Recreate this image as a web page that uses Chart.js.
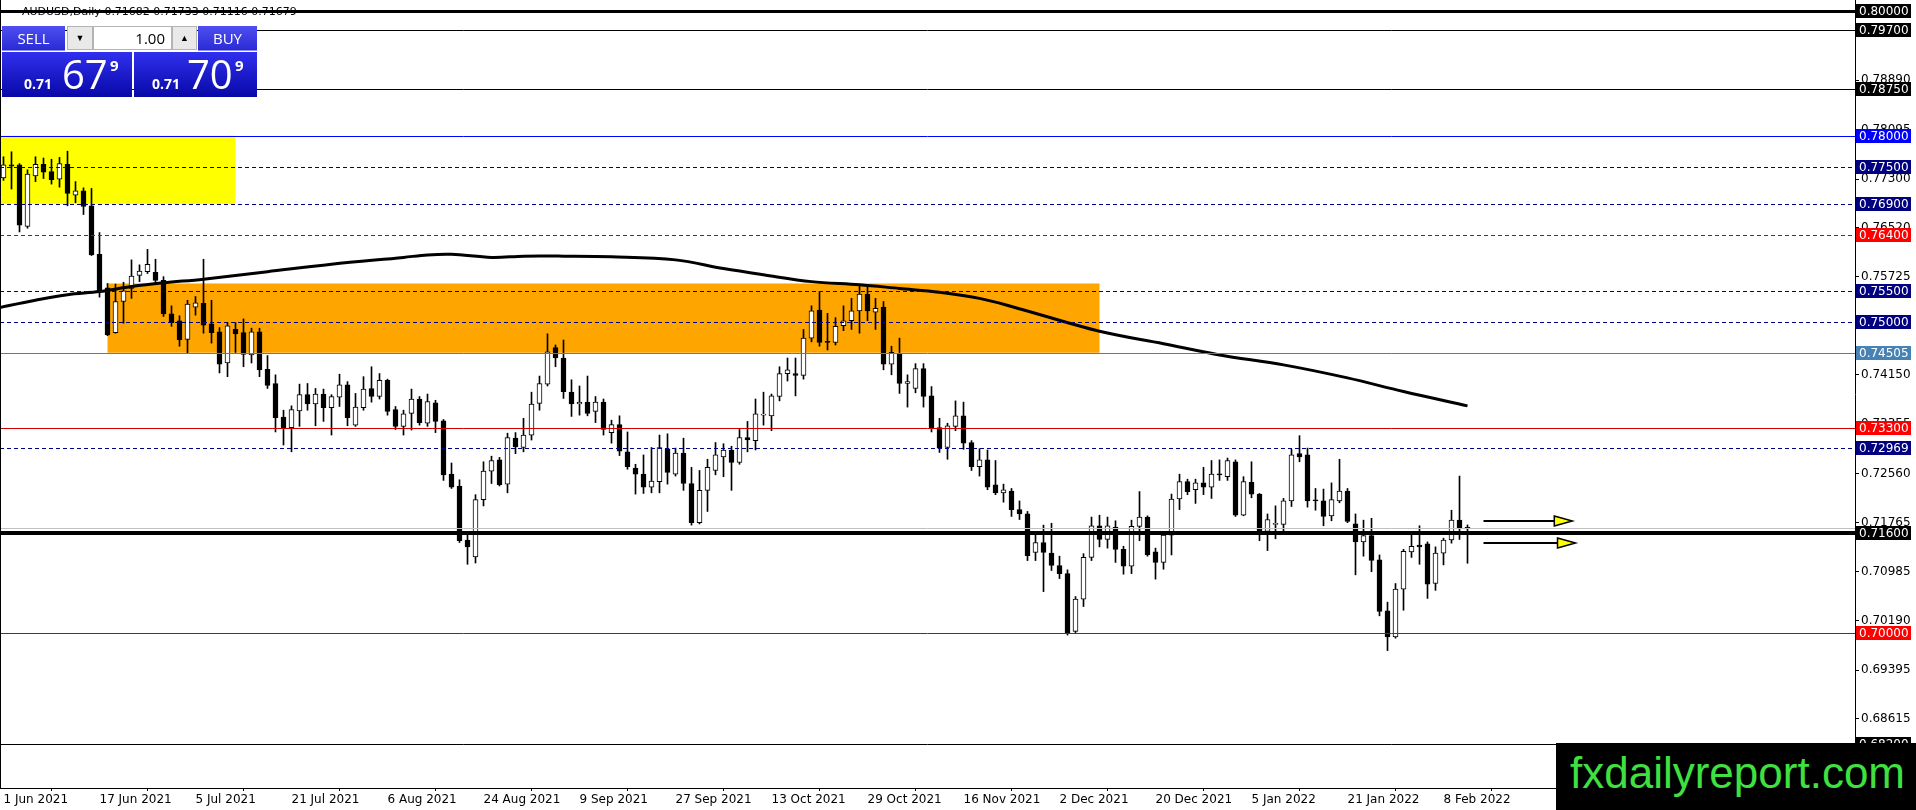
<!DOCTYPE html>
<html>
<head>
<meta charset="utf-8">
<title>AUDUSD, Daily</title>
<script src="https://cdn.jsdelivr.net/npm/chart.js@4.4.1/dist/chart.umd.min.js"></script>
<style>
  body { margin: 0; background: #fff; overflow: hidden; font-family: "DejaVu Sans", sans-serif; }
  #wrap { position: relative; width: 1916px; height: 810px; }
  #c { position: absolute; left: 0; top: 0; }
  #hdr { position: absolute; left: 22px; top: 5px; font-size: 11px; line-height: 13px; color: #000; white-space: nowrap; }
  .pn { position: absolute; font-family: "Open Sans", sans-serif; color: #fff; box-sizing: border-box; }
  .hd { top: 26px; height: 25px; background: linear-gradient(#4f4ff0, #2b2bd6); font-size: 15px; line-height: 25px; text-align: center; border-bottom: 1px solid #8c8cf5; }
  .ctl { top: 26px; height: 24px; background: #e9e9e9; border: 1px solid #b4b4b4; color: #000; font-size: 9px; line-height: 22px; text-align: center; }
  .lot { top: 26px; height: 24px; background: #fff; border: 1px solid #b4b4b4; color: #000; font-size: 15px; line-height: 22px; text-align: right; padding-right: 6px; }
  .px { top: 52px; height: 45px; background: linear-gradient(#3030ee, #0808a8); }
  .px span { position: absolute; line-height: 1; }
  .px .a { font-size: 14px; font-weight: bold; top: 25px; }
  .px .b { font-size: 40px; top: 2px; }
  .px .s { font-size: 15px; font-weight: bold; top: 6px; }
  #wm { position: absolute; left: 1556px; top: 743px; width: 360px; height: 67px; background: #000; color: #3fe03f;
        font-family: "Liberation Sans", Arial, sans-serif; font-size: 44px; line-height: 60px; padding-left: 14px; box-sizing: border-box; }
</style>
</head>
<body>
<div id="wrap">
  <canvas id="c" width="1916" height="810"></canvas>
  <div id="hdr"></div>

  <div class="pn hd" style="left:2px;width:63px">SELL</div>
  <div class="pn ctl" style="left:67px;width:26px">&#9660;</div>
  <div class="pn lot" style="left:93px;width:79px">1.00</div>
  <div class="pn ctl" style="left:172px;width:25px">&#9650;</div>
  <div class="pn hd" style="left:198px;width:59px">BUY</div>
  <div class="pn px" style="left:2px;width:130px">
    <span class="a" style="left:22px">0.71</span><span class="b" style="left:60px">67</span><span class="s" style="left:108px">9</span>
  </div>
  <div class="pn px" style="left:134px;width:123px">
    <span class="a" style="left:18px">0.71</span><span class="b" style="left:53px">70</span><span class="s" style="left:101px">9</span>
  </div>

  <div id="wm">fxdailyreport.com</div>
</div>

<script>
// AUDUSD daily candles, 1 Jun 2021 .. 11 Feb 2022 (one value per trading day)
var OPEN = [
  0.7732, 0.7753, 0.7753, 0.7654, 0.7735, 0.7754, 0.7742, 0.7730, 0.7754, 0.7704, 0.7711, 0.7687,
  0.7609, 0.7555, 0.7483, 0.7533, 0.7554, 0.7575, 0.7581, 0.7580, 0.7567, 0.7513, 0.7502, 0.7472,
  0.7524, 0.7530, 0.7497, 0.7484, 0.7434, 0.7488, 0.7483, 0.7447, 0.7484, 0.7424, 0.7401, 0.7347,
  0.7330, 0.7357, 0.7383, 0.7368, 0.7384, 0.7362, 0.7379, 0.7399, 0.7334, 0.7362, 0.7393, 0.7380,
  0.7406, 0.7359, 0.7332, 0.7353, 0.7376, 0.7337, 0.7370, 0.7341, 0.7255, 0.7236, 0.7149, 0.7122,
  0.7214, 0.7260, 0.7278, 0.7239, 0.7313, 0.7298, 0.7318, 0.7369, 0.7400, 0.7459, 0.7442, 0.7387,
  0.7368, 0.7371, 0.7356, 0.7371, 0.7322, 0.7335, 0.7291, 0.7265, 0.7255, 0.7234, 0.7243, 0.7296,
  0.7255, 0.7289, 0.7240, 0.7177, 0.7229, 0.7261, 0.7283, 0.7294, 0.7274, 0.7314, 0.7309, 0.7350,
  0.7349, 0.7380, 0.7417, 0.7417, 0.7414, 0.7474, 0.7519, 0.7469, 0.7467, 0.7494, 0.7502, 0.7518,
  0.7545, 0.7516, 0.7524, 0.7432, 0.7449, 0.7401, 0.7393, 0.7425, 0.7381, 0.7330, 0.7298, 0.7332,
  0.7349, 0.7306, 0.7267, 0.7278, 0.7238, 0.7225, 0.7228, 0.7198, 0.7191, 0.7129, 0.7145, 0.7128,
  0.7108, 0.7095, 0.7002, 0.7054, 0.7121, 0.7172, 0.7150, 0.7170, 0.7134, 0.7107, 0.7171, 0.7186,
  0.7130, 0.7113, 0.7157, 0.7215, 0.7243, 0.7230, 0.7241, 0.7234, 0.7255, 0.7251, 0.7275, 0.7189,
  0.7242, 0.7223, 0.7163, 0.7174, 0.7174, 0.7212, 0.7288, 0.7286, 0.7213, 0.7212, 0.7188, 0.7212,
  0.7228, 0.7175, 0.7146, 0.7156, 0.7117, 0.7035, 0.6993, 0.7070, 0.7130, 0.7141, 0.7143, 0.7079,
  0.7128, 0.7149, 0.7181, 0.71682
];
var HIGH = [
  0.7766, 0.7774, 0.7755, 0.7745, 0.7766, 0.7764, 0.7762, 0.7765, 0.7775, 0.7726, 0.7716, 0.7715,
  0.7644, 0.7562, 0.7561, 0.7564, 0.7600, 0.7592, 0.7617, 0.7601, 0.7573, 0.7526, 0.7510, 0.7535,
  0.7541, 0.7601, 0.7535, 0.7491, 0.7499, 0.7499, 0.7505, 0.7490, 0.7490, 0.7446, 0.7415, 0.7358,
  0.7365, 0.7400, 0.7401, 0.7393, 0.7392, 0.7383, 0.7416, 0.7404, 0.7385, 0.7412, 0.7428, 0.7417,
  0.7408, 0.7364, 0.7358, 0.7392, 0.7380, 0.7384, 0.7374, 0.7343, 0.7273, 0.7246, 0.7157, 0.7222,
  0.7275, 0.7284, 0.7282, 0.7321, 0.7322, 0.7345, 0.7387, 0.7413, 0.7481, 0.7463, 0.7471, 0.7407,
  0.7397, 0.7413, 0.7380, 0.7376, 0.7342, 0.7349, 0.7323, 0.7271, 0.7286, 0.7298, 0.7318, 0.7320,
  0.7297, 0.7313, 0.7266, 0.7261, 0.7279, 0.7306, 0.7304, 0.7300, 0.7327, 0.7340, 0.7376, 0.7387,
  0.7384, 0.7428, 0.7442, 0.7442, 0.7488, 0.7526, 0.7549, 0.7514, 0.7507, 0.7526, 0.7538, 0.7558,
  0.7560, 0.7538, 0.7533, 0.7461, 0.7474, 0.7415, 0.7433, 0.7433, 0.7396, 0.7345, 0.7337, 0.7373,
  0.7371, 0.7309, 0.7296, 0.7294, 0.7277, 0.7239, 0.7232, 0.7212, 0.7195, 0.7157, 0.7173, 0.7176,
  0.7123, 0.7101, 0.7058, 0.7127, 0.7186, 0.7189, 0.7186, 0.7180, 0.7139, 0.7181, 0.7227, 0.7188,
  0.7136, 0.7160, 0.7223, 0.7255, 0.7247, 0.7247, 0.7266, 0.7277, 0.7278, 0.7281, 0.7278, 0.7251,
  0.7275, 0.7224, 0.7191, 0.7204, 0.7216, 0.7295, 0.7317, 0.7297, 0.7232, 0.7231, 0.7241, 0.7279,
  0.7232, 0.7191, 0.7181, 0.7184, 0.7125, 0.7049, 0.7079, 0.7134, 0.7157, 0.7172, 0.7146, 0.7138,
  0.7152, 0.7197, 0.7252, 0.71733
];
var LOW = [
  0.7728, 0.7714, 0.7645, 0.7651, 0.7726, 0.7731, 0.7722, 0.7717, 0.7687, 0.7692, 0.7673, 0.7607,
  0.7540, 0.7478, 0.7482, 0.7498, 0.7538, 0.7565, 0.7578, 0.7562, 0.7509, 0.7493, 0.7461, 0.7449,
  0.7511, 0.7482, 0.7466, 0.7418, 0.7412, 0.7451, 0.7428, 0.7434, 0.7412, 0.7393, 0.7323, 0.7302,
  0.7291, 0.7332, 0.7358, 0.7333, 0.7340, 0.7318, 0.7364, 0.7333, 0.7332, 0.7358, 0.7371, 0.7376,
  0.7350, 0.7327, 0.7318, 0.7326, 0.7334, 0.7332, 0.7322, 0.7245, 0.7232, 0.7145, 0.7110, 0.7112,
  0.7204, 0.7240, 0.7236, 0.7225, 0.7288, 0.7291, 0.7310, 0.7358, 0.7397, 0.7428, 0.7377, 0.7348,
  0.7350, 0.7349, 0.7338, 0.7318, 0.7305, 0.7285, 0.7263, 0.7223, 0.7224, 0.7225, 0.7225, 0.7239,
  0.7252, 0.7229, 0.7173, 0.7175, 0.7195, 0.7254, 0.7251, 0.7229, 0.7271, 0.7291, 0.7294, 0.7334,
  0.7325, 0.7373, 0.7405, 0.7381, 0.7408, 0.7468, 0.7461, 0.7455, 0.7463, 0.7486, 0.7488, 0.7482,
  0.7502, 0.7488, 0.7423, 0.7415, 0.7385, 0.7363, 0.7386, 0.7363, 0.7323, 0.7290, 0.7279, 0.7325,
  0.7295, 0.7261, 0.7252, 0.7230, 0.7222, 0.7210, 0.7187, 0.7182, 0.7116, 0.7116, 0.7066, 0.7100,
  0.7087, 0.6996, 0.7000, 0.7042, 0.7116, 0.7138, 0.7136, 0.7113, 0.7094, 0.7095, 0.7148, 0.7123,
  0.7086, 0.7102, 0.7125, 0.7198, 0.7222, 0.7208, 0.7222, 0.7216, 0.7245, 0.7245, 0.7187, 0.7188,
  0.7217, 0.7148, 0.7132, 0.7151, 0.7164, 0.7203, 0.7275, 0.7202, 0.7197, 0.7172, 0.7180, 0.7209,
  0.7177, 0.7093, 0.7123, 0.7098, 0.7027, 0.6971, 0.6991, 0.7036, 0.7121, 0.7110, 0.7055, 0.7068,
  0.7109, 0.7144, 0.7150, 0.71116
];
var CLOSE = [
  0.7753, 0.7751, 0.7656, 0.7738, 0.7754, 0.7741, 0.7729, 0.7755, 0.7707, 0.7711, 0.7686, 0.7608,
  0.7549, 0.7479, 0.7533, 0.7550, 0.7574, 0.7582, 0.7593, 0.7567, 0.7513, 0.7499, 0.7471, 0.7529,
  0.7531, 0.7495, 0.7483, 0.7432, 0.7494, 0.7481, 0.7448, 0.7484, 0.7423, 0.7398, 0.7346, 0.7330,
  0.7359, 0.7383, 0.7368, 0.7384, 0.7362, 0.7380, 0.7399, 0.7346, 0.7363, 0.7392, 0.7380, 0.7406,
  0.7356, 0.7332, 0.7352, 0.7376, 0.7338, 0.7372, 0.7340, 0.7254, 0.7234, 0.7148, 0.7138, 0.7214,
  0.7260, 0.7277, 0.7238, 0.7314, 0.7299, 0.7318, 0.7368, 0.7401, 0.7452, 0.7442, 0.7388, 0.7368,
  0.7371, 0.7353, 0.7371, 0.7327, 0.7335, 0.7292, 0.7267, 0.7255, 0.7234, 0.7244, 0.7298, 0.7258,
  0.7289, 0.7240, 0.7177, 0.7229, 0.7266, 0.7286, 0.7294, 0.7274, 0.7314, 0.7310, 0.7352, 0.7351,
  0.7381, 0.7417, 0.7423, 0.7414, 0.7474, 0.7518, 0.7467, 0.7467, 0.7493, 0.7502, 0.7518, 0.7545,
  0.7518, 0.7522, 0.7432, 0.7451, 0.7401, 0.7404, 0.7425, 0.7380, 0.7329, 0.7297, 0.7333, 0.7349,
  0.7305, 0.7267, 0.7278, 0.7234, 0.7225, 0.7230, 0.7198, 0.7191, 0.7124, 0.7145, 0.7129, 0.7108,
  0.7095, 0.7000, 0.7054, 0.7121, 0.7172, 0.7150, 0.7172, 0.7134, 0.7107, 0.7171, 0.7186, 0.7125,
  0.7113, 0.7157, 0.7215, 0.7243, 0.7227, 0.7241, 0.7234, 0.7255, 0.7254, 0.7277, 0.7189, 0.7243,
  0.7223, 0.7163, 0.7182, 0.7176, 0.7212, 0.7286, 0.7283, 0.7212, 0.7212, 0.7187, 0.7214, 0.7228,
  0.7179, 0.7146, 0.7156, 0.7116, 0.7034, 0.6993, 0.7070, 0.7131, 0.7139, 0.7138, 0.7078, 0.7128,
  0.7149, 0.7181, 0.7168, 0.71679
];

// moving average line, read at a few bars
var MA_BARS = [-1, 4, 8, 12, 16, 20, 25, 33, 41, 50, 53, 56, 61, 65, 70, 76, 84, 90, 95, 101, 107, 112, 117, 122, 126, 137, 145, 152, 160, 168, 175, 183];
var MA_VALS = [0.7522, 0.7535, 0.7544, 0.7549, 0.7557, 0.7563, 0.7569, 0.7581, 0.7593, 0.7604, 0.7608, 0.7609, 0.7604, 0.7606, 0.7606, 0.7605, 0.7600, 0.7586, 0.7576, 0.7565, 0.7560, 0.7554, 0.7548, 0.7538, 0.7525, 0.7485, 0.7465, 0.7447, 0.7431, 0.7410, 0.7388, 0.7365];

// time axis labels (every 12th bar)
var DATE_BARS = [0, 12, 24, 36, 48, 60, 72, 84, 96, 108, 120, 132, 144, 156, 168, 180];
var DATE_LABELS = ['1 Jun 2021', '17 Jun 2021', '5 Jul 2021', '21 Jul 2021', '6 Aug 2021', '24 Aug 2021', '9 Sep 2021', '27 Sep 2021',
                   '13 Oct 2021', '29 Oct 2021', '16 Nov 2021', '2 Dec 2021', '20 Dec 2021', '5 Jan 2022', '21 Jan 2022', '8 Feb 2022'];

// price scale labels
var PRICE_TICKS = [0.79685, 0.78890, 0.78095, 0.77300, 0.76520, 0.75725, 0.74940, 0.74150, 0.73355, 0.72560, 0.71765, 0.70985, 0.70190, 0.69395, 0.68615, 0.67820];

// horizontal levels and their kind
var LEVELS = [0.80000, 0.79700, 0.78750, 0.78000, 0.77500, 0.76900, 0.76400, 0.75500, 0.75000, 0.74505, 0.73300, 0.72969, 0.71600, 0.70000, 0.68200];
var LEVEL_KIND = ['bold', 'black', 'black', 'blue', 'navyDash', 'navyDash', 'redDash', 'navyDash', 'navyDash', 'steel', 'red', 'navyDash', 'pivot', 'red', 'black'];

// zones (bar from/to, price top/bottom)
var ZONE_FROM = [-5, 13];
var ZONE_TO = [29, 137];
var ZONE_TOP = [0.7800, 0.7562];
var ZONE_BOTTOM = [0.7690, 0.74505];
var ZONE_KIND = ['yellow', 'orange'];

// arrows on the right
var ARROW_FROM = [185, 185];
var ARROW_TO = [196.1, 196.5];
var ARROW_PRICE = [0.7180, 0.7145];

var N = OPEN.length;
var last = N - 1;
document.getElementById('hdr').textContent =
  'AUDUSD,Daily ' + OPEN[last].toFixed(5) + ' ' + HIGH[last].toFixed(5) + ' ' + LOW[last].toFixed(5) + ' ' + CLOSE[last].toFixed(5);

var STYLE = {
  bold:     { line: '#000000', w: 3, dash: [],     bg: '#000000' },
  black:    { line: '#000000', w: 1, dash: [],     bg: '#000000' },
  blue:     { line: '#0000ff', w: 1, dash: [],     bg: '#0000ff' },
  navyDash: { line: '#000080', w: 1, dash: [4, 3], bg: '#000080' },
  redDash:  { line: '#d00000', w: 1, dash: [4, 3], bg: '#ff0000' },
  steel:    { line: '#4682b4', w: 1, dash: [],     bg: '#4682b4' },
  red:      { line: '#d00000', w: 1, dash: [],     bg: '#ff0000' },
  pivot:    { line: '#000000', w: 4, dash: [],     bg: '#000000' }
};
var ZONE_COLOR = { yellow: '#ffff00', orange: '#ffa500' };

var bodyData = [], wickData = [], bodyColor = [];
for (var i = 0; i < N; i++) {
  var o = OPEN[i], c = CLOSE[i];
  bodyData.push({ x: i, y: [Math.min(o, c), Math.max(o, c)] });
  wickData.push({ x: i, y: [LOW[i], HIGH[i]] });
  bodyColor.push(c > o ? '#ffffff' : '#000000');
}
var maData = MA_BARS.map(function (b, k) { return { x: b, y: MA_VALS[k] }; });

function clipArea(chart) {
  var a = chart.chartArea, ctx = chart.ctx;
  ctx.beginPath();
  ctx.rect(a.left, a.top, a.right - a.left, a.bottom - a.top);
  ctx.clip();
}

var zonesPlugin = {
  id: 'zones',
  beforeDatasetsDraw: function (chart) {
    var ctx = chart.ctx, xs = chart.scales.x, ys = chart.scales.y;
    ctx.save();
    clipArea(chart);
    for (var k = 0; k < ZONE_FROM.length; k++) {
      var x1 = xs.getPixelForValue(ZONE_FROM[k]), x2 = xs.getPixelForValue(ZONE_TO[k]);
      var y1 = ys.getPixelForValue(ZONE_TOP[k]), y2 = ys.getPixelForValue(ZONE_BOTTOM[k]);
      ctx.fillStyle = ZONE_COLOR[ZONE_KIND[k]];
      ctx.fillRect(x1, y1, x2 - x1, y2 - y1);
    }
    ctx.restore();
  }
};

var levelsPlugin = {
  id: 'levels',
  afterDatasetsDraw: function (chart) {
    var ctx = chart.ctx, a = chart.chartArea, xs = chart.scales.x, ys = chart.scales.y;
    ctx.save();
    clipArea(chart);
    // bid line
    var yb = Math.round(ys.getPixelForValue(CLOSE[last])) + 0.5;
    ctx.strokeStyle = '#c0c0c0'; ctx.lineWidth = 1; ctx.setLineDash([]);
    ctx.beginPath(); ctx.moveTo(a.left, yb); ctx.lineTo(a.right, yb); ctx.stroke();
    for (var k = 0; k < LEVELS.length; k++) {
      var st = STYLE[LEVEL_KIND[k]];
      var y = ys.getPixelForValue(LEVELS[k]);
      y = st.w % 2 ? Math.round(y) + 0.5 : Math.round(y);
      ctx.strokeStyle = st.line; ctx.lineWidth = st.w; ctx.setLineDash(st.dash);
      ctx.beginPath(); ctx.moveTo(a.left, y); ctx.lineTo(a.right, y); ctx.stroke();
    }
    // arrows
    ctx.setLineDash([]);
    for (var j = 0; j < ARROW_FROM.length; j++) {
      var xa = xs.getPixelForValue(ARROW_FROM[j]), xt = xs.getPixelForValue(ARROW_TO[j]);
      var ya = Math.round(ys.getPixelForValue(ARROW_PRICE[j]));
      ctx.strokeStyle = '#000'; ctx.lineWidth = 2;
      ctx.beginPath(); ctx.moveTo(xa, ya); ctx.lineTo(xt - 16, ya); ctx.stroke();
      ctx.beginPath();
      ctx.moveTo(xt - 18, ya - 5); ctx.lineTo(xt, ya); ctx.lineTo(xt - 18, ya + 5); ctx.closePath();
      ctx.fillStyle = '#ffff00'; ctx.fill();
      ctx.lineWidth = 1.5; ctx.stroke();
    }
    ctx.restore();
    // left frame
    ctx.save();
    ctx.strokeStyle = '#000'; ctx.lineWidth = 1;
    ctx.beginPath(); ctx.moveTo(a.left + 0.5, a.top); ctx.lineTo(a.left + 0.5, a.bottom); ctx.stroke();
    ctx.restore();
  }
};

var levelLabelsPlugin = {
  id: 'levelLabels',
  afterDraw: function (chart) {
    var ctx = chart.ctx, a = chart.chartArea, ys = chart.scales.y;
    ctx.save();
    ctx.font = '12px "DejaVu Sans"';
    ctx.textBaseline = 'middle';
    ctx.textAlign = 'left';
    for (var k = 0; k < LEVELS.length; k++) {
      var st = STYLE[LEVEL_KIND[k]];
      var y = Math.round(ys.getPixelForValue(LEVELS[k]));
      ctx.fillStyle = st.bg;
      ctx.fillRect(a.right + 1, y - 7, 55, 14);
      ctx.fillStyle = '#ffffff';
      ctx.fillText(LEVELS[k].toFixed(5), a.right + 4, y + 0.5);
    }
    ctx.restore();
  }
};

Chart.defaults.font.family = '"DejaVu Sans", sans-serif';
Chart.defaults.font.size = 12;
Chart.defaults.color = '#000';

new Chart(document.getElementById('c'), {
  type: 'bar',
  data: {
    datasets: [
      { type: 'line', data: maData, borderColor: '#000', borderWidth: 3, pointRadius: 0, tension: 0.35, fill: false, order: 0 },
      { type: 'bar', data: bodyData, backgroundColor: bodyColor, borderColor: '#000', borderWidth: 1, borderSkipped: false,
        barThickness: 5, minBarLength: 1, grouped: false, order: 1 },
      { type: 'bar', data: wickData, backgroundColor: '#000', borderWidth: 0, barThickness: 1, grouped: false, order: 2 }
    ]
  },
  options: {
    responsive: false,
    maintainAspectRatio: false,
    devicePixelRatio: 1,
    animation: false,
    events: [],
    layout: { padding: 0 },
    plugins: { legend: { display: false }, tooltip: { enabled: false } },
    scales: {
      x: {
        type: 'linear', offset: false, min: -0.4375, max: 231.4375,
        grid: { display: true, drawOnChartArea: false, drawTicks: true, tickLength: 3, color: '#000' },
        border: { display: true, color: '#000', width: 1 },
        ticks: {
          align: 'start', maxRotation: 0, autoSkip: false, padding: 2,
          callback: function (v, idx) { return DATE_LABELS[idx]; }
        },
        afterBuildTicks: function (s) { s.ticks = DATE_BARS.map(function (v) { return { value: v }; }); },
        afterFit: function (s) { s.height = 22; s.paddingLeft = 0; s.paddingRight = 0; }
      },
      y: {
        type: 'linear', position: 'right', min: 0.674984, max: 0.801835,
        grid: { display: true, drawOnChartArea: false, drawTicks: true, tickLength: 4, color: '#000' },
        border: { display: true, color: '#000', width: 1 },
        ticks: {
          padding: 2,
          callback: function (v) { return Number(v).toFixed(5); }
        },
        afterBuildTicks: function (s) { s.ticks = PRICE_TICKS.map(function (v) { return { value: v }; }); },
        afterFit: function (s) { s.width = 61; s.paddingTop = 0; s.paddingBottom = 0; }
      }
    }
  },
  plugins: [zonesPlugin, levelsPlugin, levelLabelsPlugin]
});
</script>
</body>
</html>
